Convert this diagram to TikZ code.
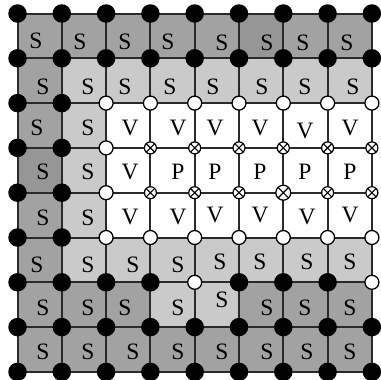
\documentclass[tikz,border=0pt]{standalone}
\usepackage{fontspec}
\setmainfont{Liberation Serif}
\definecolor{medg}{HTML}{A2A2A2}
\definecolor{darkg}{HTML}{969696}
\definecolor{lightg}{HTML}{CACACA}
\definecolor{gridc}{HTML}{2A2A2A}
\newcommand{\bigfont}{\fontsize{23.5}{27}\selectfont}
\tikzset{
  blk/.style={circle,fill=black,inner sep=0pt,minimum size=18.5pt},
  wht/.style={circle,draw=black,fill=white,line width=1.3pt,inner sep=0pt,minimum size=14pt},
  crs/.style={circle,draw=black,fill=white,line width=1.2pt,inner sep=0pt,minimum size=#1,
    path picture={\draw[line width=1.1pt] (path picture bounding box.north west) -- (path picture bounding box.south east)
      (path picture bounding box.north east) -- (path picture bounding box.south west);}},
  crs/.default=12pt,
  lbl/.style={inner sep=0pt},
  gline/.style={draw=gridc,line width=2pt}
}
\begin{document}
\begin{tikzpicture}[x=1pt,y=-1pt]
\useasboundingbox[fill=white] (0,0) rectangle (381,380);
% coordinates
\foreach \i in {0,...,8}{
  \foreach \j in {0,...,8}{
    \coordinate (p-\i-\j) at ({17.5+44.3*\i},{13.5+44.8*\j});
  }
}
% cell fills: m=medium, d=darker, l=light, w=white
\foreach \r/\row in {0/{m,m,m,m,m,d,m,m},1/{m,l,l,l,l,l,l,l},2/{m,l,w,w,w,w,w,w},3/{d,l,w,w,w,w,w,w},
                     4/{m,l,w,w,w,w,w,w},5/{m,l,l,l,l,l,l,l},6/{m,m,m,l,l,m,m,m},7/{m,m,m,m,m,m,m,m}}{
  \foreach \t [count=\c from 0] in \row {
    \pgfmathtruncatemacro{\cc}{\c+1}
    \pgfmathtruncatemacro{\rr}{\r+1}
    \if\t m\fill[medg] (p-\c-\r) rectangle (p-\cc-\rr);\fi
    \if\t d\fill[darkg] (p-\c-\r) rectangle (p-\cc-\rr);\fi
    \if\t l\fill[lightg] (p-\c-\r) rectangle (p-\cc-\rr);\fi
  }
}
% grid lines
\foreach \k in {0,...,8}{
  \draw[gline] (p-0-\k) -- (p-8-\k);
  \draw[gline] (p-\k-0) -- (p-\k-8);
}
% labels
\foreach \x/\y/\s in {
 36/41/S,80/42/S,125/42/S,168/42/S,222/43/S,267/43/S,303/43/S,347/43/S,
 43/87/S,88/87/S,125/87/S,170/87/S,213/87/S,262/87/S,305/87/S,353/87/S,
 37/128/S,88/128/S,130/128/V,178/128/V,215/128/V,260/128/V,305/131/V,350/128/V,
 43/172/S,88/172/S,130/172/V,178/172/P,215/172/P,260/172/P,305/172/P,350/172/P,
 43/218/S,88/218/S,130/217/V,178/217/V,215/215/V,260/215/V,307/217/V,350/215/V,
 37/265/S,88/265/S,133/265/S,178/265/S,220/262/S,260/262/S,307/262/S,350/262/S,
 43/308/S,88/308/S,125/308/S,178/308/S,222/300/S,267/308/S,305/308/S,350/308/S,
 43/352/S,88/352/S,133/352/S,178/352/S,222/352/S,267/352/S,307/352/S,350/352/S}{
  \node[lbl] (t-\x-\y) at (\x,\y) {\bigfont \s};
}
% grid points: b=black, w=white, x=crossed, y=large crossed
\foreach \j/\row in {0/{b,b,b,b,b,b,b,b,b},1/{b,b,b,b,b,b,b,b,b},2/{b,b,w,w,w,w,w,w,w},
                     3/{b,b,w,x,x,x,x,x,x},4/{b,b,w,x,x,x,y,x,x},5/{b,b,w,w,w,w,w,w,w},
                     6/{b,b,b,b,w,b,b,b,w},7/{b,b,b,b,b,b,b,b,b},8/{b,b,b,b,b,b,b,b,b}}{
  \foreach \t [count=\i from 0] in \row {
    \if\t b\node[blk] (n-\i-\j) at (p-\i-\j) {};\fi
    \if\t w\node[wht] (n-\i-\j) at (p-\i-\j) {};\fi
    \if\t x\node[crs] (n-\i-\j) at (p-\i-\j) {};\fi
    \if\t y\node[crs=15pt] (n-\i-\j) at (p-\i-\j) {};\fi
  }
}
\end{tikzpicture}
\end{document}
